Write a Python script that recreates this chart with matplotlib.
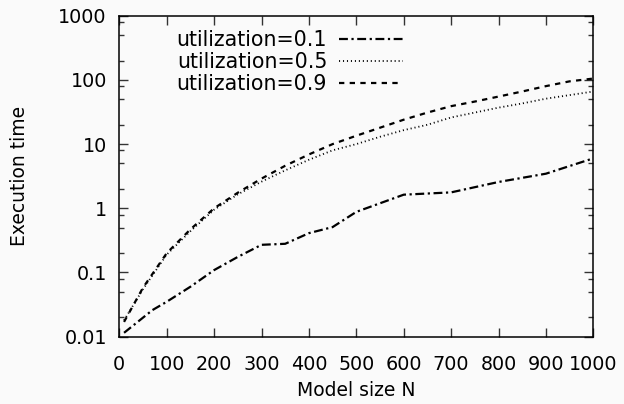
import matplotlib
matplotlib.use('Agg')
import matplotlib.pyplot as plt
from matplotlib.ticker import FixedLocator, FuncFormatter, NullLocator

plt.rcParams['font.family'] = ['DejaVu Sans']

# execution time vs model size, three utilization levels
n_01 = [10, 70, 100, 150, 200, 250, 300, 350, 400, 450, 500, 600, 700, 800, 900, 1000]
t_01 = [0.0115, 0.026, 0.035, 0.06, 0.109, 0.175, 0.27, 0.28, 0.41, 0.51, 0.88,
        1.63, 1.77, 2.57, 3.46, 6.0]

n_grid = [10, 50, 100, 150, 200, 250, 300, 350, 400, 450, 500,
          550, 600, 650, 700, 750, 800, 850, 900, 950, 1000]
t_05 = [0.018, 0.055, 0.19, 0.44, 0.95, 1.65, 2.6, 3.9, 5.7, 8.0, 10.0,
        13.0, 16.5, 20.0, 26.0, 31.0, 37.0, 43.0, 51.0, 58.0, 66.0]
t_09 = [0.017, 0.058, 0.2, 0.47, 1.0, 1.75, 2.9, 4.6, 6.9, 10.0, 13.5,
        18.0, 24.0, 31.0, 39.0, 46.0, 55.0, 66.0, 80.0, 95.0, 105.0]

labels = ['utilization=0.1', 'utilization=0.5', 'utilization=0.9']
y_major = [0.01, 0.1, 1, 10, 100, 1000]
y_minor = [m * d for d in [0.01, 0.1, 1, 10, 100] for m in (2, 5, 8)]
x_major = list(range(0, 1001, 100))

bg = '#fafafa'
fig = plt.figure(figsize=(6.24, 4.04), dpi=100, facecolor=bg)
ax = fig.add_axes([0.1912, 0.1666, 0.7596, 0.7945], facecolor=bg)

ax.plot(n_01, t_01, color='black', lw=1.6, dashes=(4.0, 1.6, 1.0, 1.6), label=labels[0])
ax.plot(n_grid, t_05, color='black', lw=1.3, dashes=(0.6, 1.6), label=labels[1])
ax.plot(n_grid, t_09, color='black', lw=1.6, dashes=(2.4, 2.4), label=labels[2])

ax.set_yscale('log')
ax.set_xlim(0, 1000)
ax.set_ylim(0.01, 1000)
ax.yaxis.set_major_locator(FixedLocator(y_major))
ax.yaxis.set_minor_locator(FixedLocator(y_minor))
ax.yaxis.set_major_formatter(FuncFormatter(lambda v, p: f'{v:g}'))
ax.yaxis.set_minor_formatter(FuncFormatter(lambda v, p: ''))
ax.xaxis.set_major_locator(FixedLocator(x_major))
ax.xaxis.set_minor_locator(NullLocator())

ax.tick_params(which='both', direction='in', top=True, right=True, color='#333333')
ax.tick_params(which='major', length=6.5, width=1.0, labelsize=13.8)
ax.tick_params(which='minor', length=3.6, width=1.0)
ax.tick_params(axis='x', which='major', pad=13)
ax.tick_params(axis='y', which='major', pad=9)
for s in ax.spines.values():
    s.set_linewidth(1.1)

ax.set_xlabel('Model size N', fontsize=13.5, labelpad=5)
ax.set_ylabel('Execution time', fontsize=13.5, labelpad=21)

ax.legend(loc='upper left', bbox_to_anchor=(0.121, 0.955), frameon=False,
          markerfirst=False, fontsize=14.8, handlelength=3.1, handletextpad=0.6,
          labelspacing=0.1, borderpad=0, borderaxespad=0)

fig.savefig('out.png', dpi=100, facecolor=bg)
